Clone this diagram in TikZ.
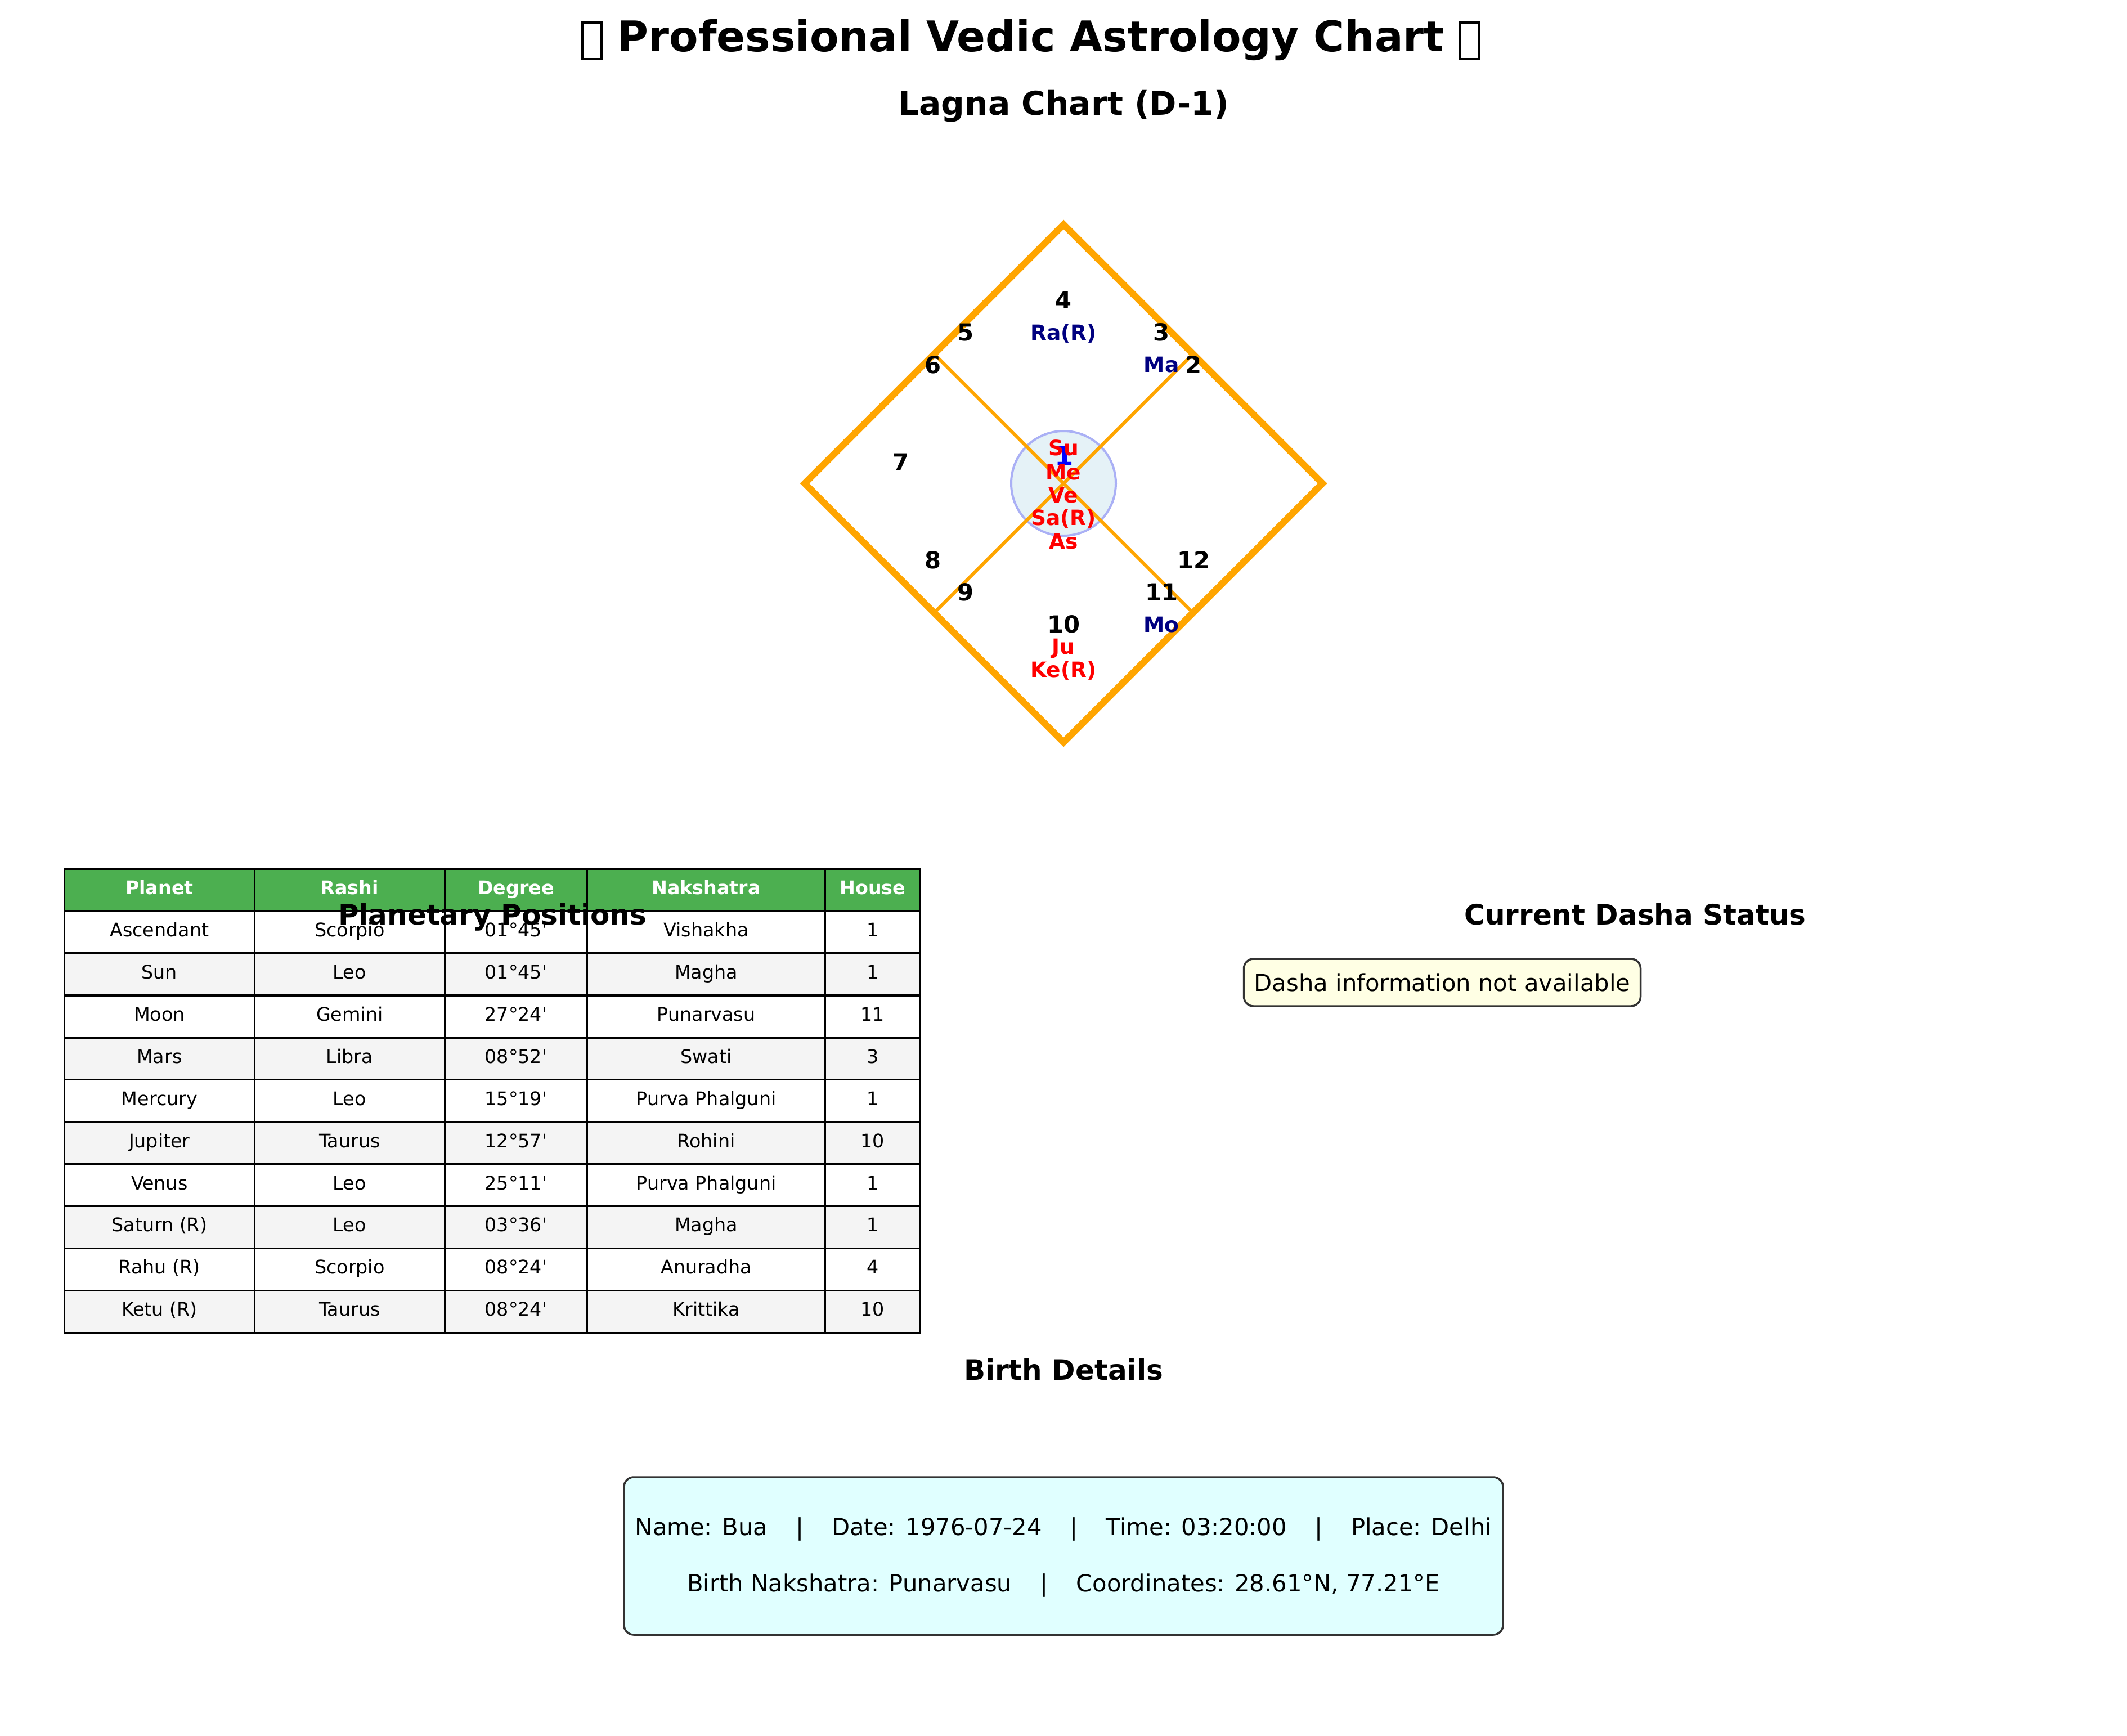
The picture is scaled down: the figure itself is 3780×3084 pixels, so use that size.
\documentclass[tikz,border=0pt]{standalone}
\usepackage{fontspec}
\setmainfont{DejaVu Sans}
\definecolor{chartorange}{HTML}{FFA500}
\definecolor{hdrgreen}{HTML}{4CAF50}
\definecolor{rowgray}{HTML}{F4F4F4}
\definecolor{lyellow}{HTML}{FFFFE4}
\definecolor{lcyan}{HTML}{E0FFFF}
\definecolor{boxedge}{HTML}{333333}
\definecolor{circfill}{HTML}{E5F2F7}
\definecolor{circedge}{HTML}{AAB0F5}
\definecolor{pnavy}{HTML}{000080}
\newcommand\tofu{\raisebox{-0.16em}{\setlength{\fboxsep}{0pt}\setlength{\fboxrule}{0.055em}\fbox{\rule{0pt}{0.81em}\hspace{0.40em}}}}
\newcommand\sq{\textquotesingle}
\newcommand\sep{\hspace{50pt}|\hspace{50pt}}
\begin{document}
\begin{tikzpicture}[x=1pt,y=-1pt,
  maintitle/.style={font=\fontsize{75}{90}\selectfont\bfseries, anchor=base, inner sep=0},
  subtitle/.style={font=\fontsize{58.3}{70}\selectfont\bfseries, anchor=base, inner sep=0},
  sectitle/.style={font=\fontsize{50}{60}\selectfont\bfseries, anchor=base, inner sep=0},
  hnum/.style={font=\fontsize{41.7}{50}\selectfont\bfseries, anchor=base, inner sep=0},
  plab/.style={font=\fontsize{37.5}{45}\selectfont\bfseries, anchor=base, inner sep=0},
  outerline/.style={draw=chartorange, line width=12},
  innerline/.style={draw=chartorange, line width=6},
  cell/.style={draw=black, line width=3.3, inner sep=0, outer sep=0, minimum height=74.9,
    text height=24, text depth=8, font=\fontsize{33.3}{40}\selectfont},
  hdrcell/.style={cell, fill=hdrgreen, text=white, font=\fontsize{33.3}{40}\selectfont\bfseries},
  infobox/.style={draw=boxedge, line width=3.5, rounded corners=17},
  bodytext/.style={font=\fontsize{41.7}{50}\selectfont, anchor=base, inner sep=0}
]
\useasboundingbox (0,0) rectangle (3780,3084);

% titles
\node[maintitle] (title) at (1832,91) {\tofu\ Professional Vedic Astrology Chart\ \tofu};
\node[subtitle] (lagna) at (1890,204) {Lagna Chart (D-1)};

% chart
\coordinate (T) at (1890,399);
\coordinate (R) at (2350,859);
\coordinate (B) at (1890,1319);
\coordinate (L) at (1430,859);
\coordinate (UL) at (1660,629);
\coordinate (UR) at (2120,629);
\coordinate (LR) at (2120,1089);
\coordinate (LL) at (1660,1089);
\node[circle, minimum size=186, inner sep=0, fill=circfill, draw=circedge, line width=4] (asc) at (1890,859) {};
\draw[outerline] (T) -- (R) -- (B) -- (L) -- cycle;
\draw[innerline] (UL) -- (LR);
\draw[innerline] (UR) -- (LL);

\node[hnum] (h4) at (1890,548) {4};
\node[hnum] (h5) at (1716,605) {5};
\node[hnum] (h3) at (2064,605) {3};
\node[hnum] (h6) at (1658,663) {6};
\node[hnum] (h2) at (2121,663) {2};
\node[hnum] (h7) at (1601,836) {7};
\node[hnum] (h8) at (1658,1010) {8};
\node[hnum] (h12) at (2121,1010) {12};
\node[hnum] (h9) at (1716,1067) {9};
\node[hnum] (h11) at (2064,1067) {11};
\node[hnum] (h10) at (1890,1124) {10};

\node[plab, text=pnavy] (ra) at (1890,604) {Ra(R)};
\node[plab, text=pnavy] (ma) at (2064,661) {Ma};
\node[plab, text=pnavy] (mo) at (2064,1123) {Mo};
\node[plab, text=red] (ju) at (1890,1162) {Ju};
\node[plab, text=red] (ke) at (1890,1203) {Ke(R)};

\node[font=\fontsize{48}{56}\selectfont\bfseries, anchor=base, inner sep=0, text=blue] (h1) at (1891,827) {1};
\node[plab, text=red] (su) at (1890,809) {Su};
\node[plab, text=red] (me) at (1890,852) {Me};
\node[plab, text=red] (ve) at (1890,893) {Ve};
\node[plab, text=red] (sa) at (1890,933) {Sa(R)};
\node[plab, text=red] (as) at (1890,975) {As};

% table
\node[hdrcell, minimum width=338] (t0-1) at (283.3,1581.75) {Planet};
\node[hdrcell, minimum width=338] (t0-2) at (621.3,1581.75) {Rashi};
\node[hdrcell, minimum width=253.5] (t0-3) at (917.05,1581.75) {Degree};
\node[hdrcell, minimum width=422.6] (t0-4) at (1255.1,1581.75) {Nakshatra};
\node[hdrcell, minimum width=169] (t0-5) at (1550.9,1581.75) {House};
\foreach \r/\a/\b/\c/\d/\e in {
  1/Ascendant/Scorpio/01°45\sq/Vishakha/1,
  2/Sun/Leo/01°45\sq/Magha/1,
  3/Moon/Gemini/27°24\sq/Punarvasu/11,
  4/Mars/Libra/08°52\sq/Swati/3,
  5/Mercury/Leo/15°19\sq/Purva Phalguni/1,
  6/Jupiter/Taurus/12°57\sq/Rohini/10,
  7/Venus/Leo/25°11\sq/Purva Phalguni/1,
  8/Saturn (R)/Leo/03°36\sq/Magha/1,
  9/Rahu (R)/Scorpio/08°24\sq/Anuradha/4,
  10/Ketu (R)/Taurus/08°24\sq/Krittika/10}{
  \pgfmathsetmacro{\yc}{1581.75+74.9*\r}
  \pgfmathtruncatemacro{\odd}{mod(\r,2)}
  \ifnum\odd=1 \def\rowfill{white}\else\def\rowfill{rowgray}\fi
  \node[cell, fill=\rowfill, minimum width=338] (t\r-1) at (283.3,\yc) {\a};
  \node[cell, fill=\rowfill, minimum width=338] (t\r-2) at (621.3,\yc) {\b};
  \node[cell, fill=\rowfill, minimum width=253.5] (t\r-3) at (917.05,\yc) {\c};
  \node[cell, fill=\rowfill, minimum width=422.6] (t\r-4) at (1255.1,\yc) {\d};
  \node[cell, fill=\rowfill, minimum width=169] (t\r-5) at (1550.9,\yc) {\e};
}
\node[sectitle] (pptitle) at (875,1643) {Planetary Positions};

% dasha
\node[sectitle] (dtitle) at (2906,1643) {Current Dasha Status};
\node[infobox, fill=lyellow, minimum width=705, minimum height=84, inner sep=0,
  font=\fontsize{41.7}{50}\selectfont] (dbox) at (2563,1746) {Dasha information not available};

% birth details
\node[sectitle] (btitle) at (1890,2452) {Birth Details};
\node[infobox, fill=lcyan, minimum width=1562, minimum height=280] (bbox) at (1890,2765) {};
\node[bodytext] (bline1) at (1890,2728) {Name: Bua\sep Date: 1976-07-24\sep Time: 03:20:00\sep Place: Delhi};
\node[bodytext] (bline2) at (1890,2828) {Birth Nakshatra: Punarvasu\sep Coordinates: 28.61°N, 77.21°E};
\end{tikzpicture}
\end{document}
